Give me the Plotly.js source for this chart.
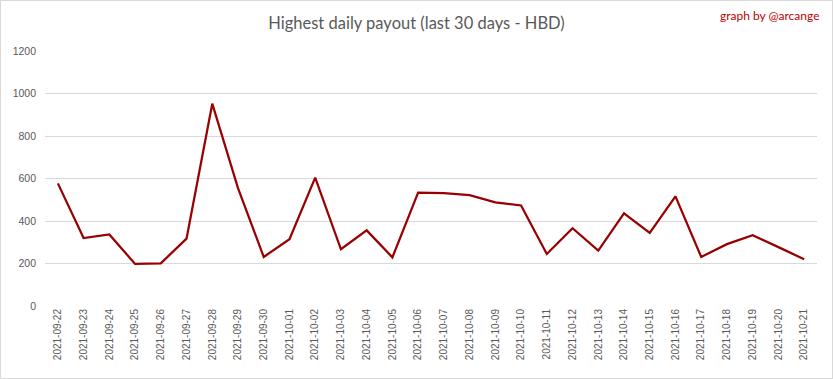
<!DOCTYPE html>
<html><head><meta charset="utf-8">
<script src="https://cdn.plot.ly/plotly-3.0.1.min.js"></script>
<style>
html,body{margin:0;padding:0;background:#fff;}
#wrap{position:relative;width:833px;height:379px;}
#chart{position:absolute;left:0;top:0;width:833px;height:379px;}
#border{position:absolute;left:0;top:0;width:831px;height:377px;border:1px solid #d9d9d9;pointer-events:none;}
</style></head>
<body>
<div id="wrap"><div id="chart"></div><div id="border"></div></div>
<script>
const dates = ["2021-09-22","2021-09-23","2021-09-24","2021-09-25","2021-09-26","2021-09-27","2021-09-28","2021-09-29","2021-09-30","2021-10-01","2021-10-02","2021-10-03","2021-10-04","2021-10-05","2021-10-06","2021-10-07","2021-10-08","2021-10-09","2021-10-10","2021-10-11","2021-10-12","2021-10-13","2021-10-14","2021-10-15","2021-10-16","2021-10-17","2021-10-18","2021-10-19","2021-10-20","2021-10-21"];
const payout = [577,320,337,198,201,317,952,555,231,314,604,267,356,229,534,531,522,488,473,245,366,261,436,344,516,231,291,333,277,220];
const yTicks = [0,200,400,600,800,1000,1200];

const trace = {
  x: dates, y: payout, type: 'scatter', mode: 'lines',
  line: {color: '#990000', width: 2.25}, hoverinfo: 'skip'
};
const layout = {
  width: 833, height: 379,
  margin: {l: 45, r: 16, t: 51, b: 73},
  paper_bgcolor: '#fff', plot_bgcolor: '#fff',
  showlegend: false,
  font: {family: 'Liberation Sans, Arial, sans-serif', color: '#595959'},
  title: {text: 'Highest daily payout (last 30 days - HBD)', x: 0.5, xref: 'container', xanchor: 'center', y: 0.94, yanchor: 'middle',
          font: {family: 'Lato, sans-serif', size: 16.5, color: '#595959'}},
  xaxis: {type: 'category', range: [-0.5, dates.length - 0.5], tickangle: -90, tickfont: {size: 10, color: '#595959'},
          showgrid: false, zeroline: false, showline: false, ticks: '', fixedrange: true},
  yaxis: {range: [0, 1200], tickvals: yTicks, ticktext: yTicks.map(String), tickfont: {size: 10.5, color: '#595959'},
          showgrid: true, gridcolor: '#d9d9d9', gridwidth: 1, zeroline: false, showline: false, ticks: '', ticklabelstandoff: 8, fixedrange: true},
  annotations: [{text: 'graph by @arcange', xref: 'paper', yref: 'paper', x: 1.0, y: 1.14, xanchor: 'right', yanchor: 'middle', xshift: 5,
                 showarrow: false, font: {family: 'Lato, sans-serif', size: 12, color: '#c00000'}}]
};
Plotly.newPlot('chart', [trace], layout, {displayModeBar: false, staticPlot: true});
</script>
</body></html>
